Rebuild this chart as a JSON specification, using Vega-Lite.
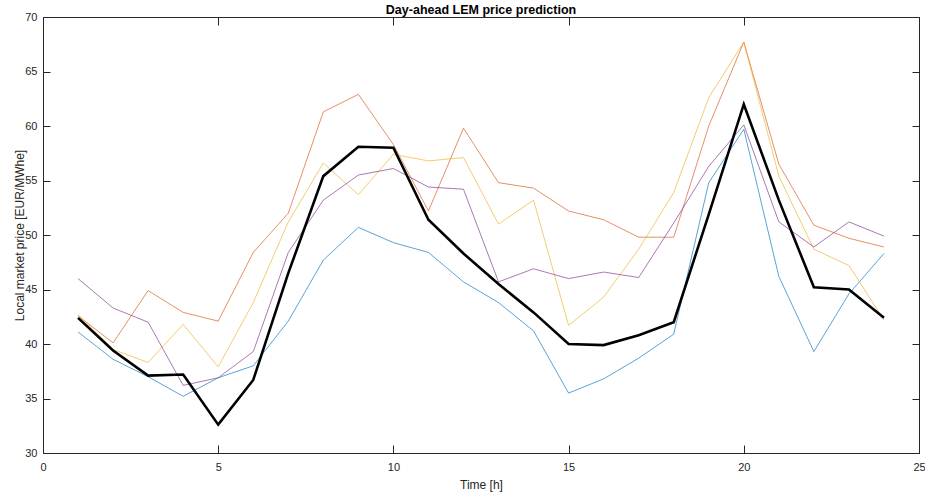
{
  "$schema": "https://vega.github.io/schema/vega-lite/v6.json",
  "autosize": {"type": "none"},
  "width": 876,
  "height": 436,
  "padding": {"left": 43, "top": 17, "right": 6, "bottom": 45},
  "background": "white",
  "title": {
    "text": "Day-ahead LEM price prediction",
    "font": "Liberation Sans",
    "fontSize": 12.5,
    "fontWeight": "bold",
    "color": "#000000",
    "anchor": "middle",
    "frame": "group",
    "offset": -5
  },
  "config": {
    "view": {"stroke": "#262626", "strokeWidth": 1},
    "axis": {
      "labelFont": "Liberation Sans",
      "titleFont": "Liberation Sans",
      "labelFontSize": 11,
      "titleFontSize": 12,
      "labelColor": "#262626",
      "titleColor": "#262626",
      "titleFontWeight": "normal",
      "domainColor": "#262626",
      "tickColor": "#262626",
      "grid": false
    }
  },
  "data": {
    "values": [
      {"h": 1, "s1": 41.1, "s2": 42.6, "s3": 42.7, "s4": 46.0, "mean": 42.4},
      {"h": 2, "s1": 38.6, "s2": 40.1, "s3": 39.5, "s4": 43.3, "mean": 39.4},
      {"h": 3, "s1": 37.0, "s2": 44.9, "s3": 38.3, "s4": 42.0, "mean": 37.1},
      {"h": 4, "s1": 35.2, "s2": 42.9, "s3": 41.8, "s4": 36.2, "mean": 37.2},
      {"h": 5, "s1": 36.9, "s2": 42.1, "s3": 37.9, "s4": 36.9, "mean": 32.6},
      {"h": 6, "s1": 38.0, "s2": 48.4, "s3": 43.8, "s4": 39.3, "mean": 36.7},
      {"h": 7, "s1": 42.1, "s2": 52.0, "s3": 51.2, "s4": 48.4, "mean": 46.5},
      {"h": 8, "s1": 47.7, "s2": 61.3, "s3": 56.6, "s4": 53.2, "mean": 55.4},
      {"h": 9, "s1": 50.7, "s2": 62.9, "s3": 53.7, "s4": 55.5, "mean": 58.1},
      {"h": 10, "s1": 49.3, "s2": 58.3, "s3": 57.4, "s4": 56.1, "mean": 58.0},
      {"h": 11, "s1": 48.4, "s2": 52.2, "s3": 56.8, "s4": 54.4, "mean": 51.4},
      {"h": 12, "s1": 45.7, "s2": 59.8, "s3": 57.1, "s4": 54.2, "mean": 48.3},
      {"h": 13, "s1": 43.8, "s2": 54.8, "s3": 51.0, "s4": 45.7, "mean": 45.5},
      {"h": 14, "s1": 41.2, "s2": 54.3, "s3": 53.2, "s4": 46.9, "mean": 42.9},
      {"h": 15, "s1": 35.5, "s2": 52.2, "s3": 41.7, "s4": 46.0, "mean": 40.0},
      {"h": 16, "s1": 36.8, "s2": 51.4, "s3": 44.3, "s4": 46.6, "mean": 39.9},
      {"h": 17, "s1": 38.7, "s2": 49.8, "s3": 48.7, "s4": 46.1, "mean": 40.8},
      {"h": 18, "s1": 40.9, "s2": 49.8, "s3": 53.9, "s4": 51.1, "mean": 42.0},
      {"h": 19, "s1": 54.8, "s2": 60.0, "s3": 62.6, "s4": 56.3, "mean": 51.9},
      {"h": 20, "s1": 59.7, "s2": 67.7, "s3": 67.7, "s4": 60.1, "mean": 62.0},
      {"h": 21, "s1": 46.2, "s2": 56.5, "s3": 55.4, "s4": 51.2, "mean": 53.2},
      {"h": 22, "s1": 39.3, "s2": 50.9, "s3": 48.7, "s4": 48.9, "mean": 45.2},
      {"h": 23, "s1": 44.6, "s2": 49.7, "s3": 47.2, "s4": 51.2, "mean": 45.0},
      {"h": 24, "s1": 48.3, "s2": 48.9, "s3": 42.2, "s4": 49.9, "mean": 42.4}
    ]
  },
  "layer": [
    {
      "transform": [{"fold": ["s1", "s2", "s3", "s4"], "as": ["series", "price"]}],
      "mark": {"type": "line", "strokeWidth": 1, "strokeOpacity": 0.65},
      "encoding": {
        "x": {
          "field": "h", "type": "quantitative",
          "scale": {"domain": [0, 25], "nice": false},
          "axis": {"title": "Time [h]", "values": [0, 5, 10, 15, 20, 25], "tickSize": -8, "labelPadding": 16, "titlePadding": 7, "labelFlush": false}
        },
        "y": {
          "field": "price", "type": "quantitative",
          "scale": {"domain": [30, 70], "nice": false, "zero": false},
          "axis": {"title": "Local market price [EUR/MWhe]", "values": [30, 35, 40, 45, 50, 55, 60, 65, 70], "tickSize": -7, "labelPadding": 13, "titlePadding": -2, "labelFlush": false}
        },
        "color": {
          "field": "series", "type": "nominal",
          "scale": {"domain": ["s1", "s2", "s3", "s4"], "range": ["#0072BD", "#D95319", "#EDB120", "#7E2F8E"]},
          "legend": null
        },
        "order": {"field": "h"}
      }
    },
    {
      "mark": {"type": "line", "color": "#000000", "strokeWidth": 2.6},
      "encoding": {
        "x": {"field": "h", "type": "quantitative", "axis": null},
        "y": {"field": "mean", "type": "quantitative", "axis": null}
      }
    },
    {
      "mark": {"type": "rule", "opacity": 0},
      "encoding": {
        "x": {"field": "h", "type": "quantitative", "axis": {"orient": "top", "title": null, "labels": false, "values": [0, 5, 10, 15, 20, 25], "tickSize": -8}},
        "y": {"field": "mean", "type": "quantitative", "axis": {"orient": "right", "title": null, "labels": false, "values": [30, 35, 40, 45, 50, 55, 60, 65, 70], "tickSize": -7}}
      }
    }
  ],
  "resolve": {"axis": {"x": "independent", "y": "independent"}}
}
